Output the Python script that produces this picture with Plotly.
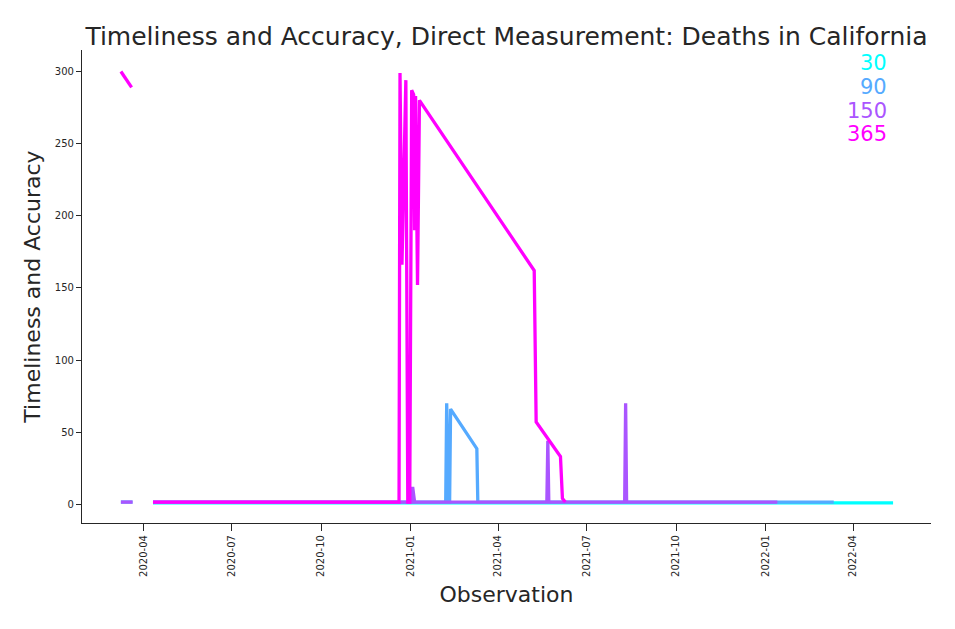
import plotly.graph_objects as go

# breakpoints (value is ~flat between listed dates)
dates_30 = ["2020-04-11", "2022-05-12"]
vals_30 = [1.0, 1.0]

dates_90 = ["2020-03-09", "2020-03-21", "2020-03-30", "2020-04-11", "2021-02-06", "2021-02-07",
            "2021-02-09", "2021-02-10", "2021-02-11", "2021-03-10", "2021-03-11", "2022-03-12"]
vals_90 = [1.5, 1.5, None, 1.5, 1.5, 70, 1.5, 1.5, 66, 38.5, 1.5, 1.5]

dates_150 = ["2020-03-09", "2020-03-21", "2020-03-30", "2020-04-11", "2021-01-02", "2021-01-03",
             "2021-01-05", "2021-05-21", "2021-05-22", "2021-05-23", "2021-08-09", "2021-08-10",
             "2021-08-11", "2022-01-13"]
vals_150 = [1.5, 1.5, None, 1.5, 1.5, 12, 1.5, 1.5, 44, 1.5, 1.5, 70, 1.5, 1.5]

dates_365 = ["2020-03-09", "2020-03-20", "2020-03-30", "2020-04-11", "2020-12-20", "2020-12-21",
             "2020-12-23", "2020-12-27", "2020-12-28", "2020-12-29", "2020-12-31", "2021-01-02",
             "2021-01-04", "2021-01-05", "2021-01-06", "2021-01-08", "2021-01-10", "2021-05-08",
             "2021-05-10", "2021-06-04", "2021-06-06", "2021-06-09"]
vals_365 = [300, 289, None, 1.5, 1.5, 299, 166, 294, 188, 1.5, 1.5, 287,
            284, 190, 283, 152, 280, 162, 57, 33, 4, 1.5]

series = [("30", dates_30, vals_30, "#00ffff"),
          ("90", dates_90, vals_90, "#55aaff"),
          ("150", dates_150, vals_150, "#aa55ff"),
          ("365", dates_365, vals_365, "#ff00ff")]

tick_dates = ["2020-04-01", "2020-07-01", "2020-10-01", "2021-01-01", "2021-04-01",
              "2021-07-01", "2021-10-01", "2022-01-01", "2022-04-01"]
tick_text = [d[:7] for d in tick_dates]

ink = "#262626"

fig = go.Figure()
for name, xs, ys, col in series:
    fig.add_trace(go.Scatter(x=xs, y=ys, mode="lines", name=name,
                             line=dict(color=col, width=3.3)))

# colored text legend at top right
for i, (name, xs, ys, col) in enumerate(series):
    fig.add_annotation(text=name, xref="paper", yref="paper", x=0.95, y=0.972 - i * 0.05,
                       xanchor="right", yanchor="middle", showarrow=False,
                       font=dict(size=21, color=col))

# page has an 8px body margin, so the figure is a bit smaller than the window
fig.update_layout(
    width=947, height=621,
    margin=dict(l=74, r=24, t=42, b=106),
    plot_bgcolor="white", paper_bgcolor="white",
    font=dict(family="DejaVu Sans", color=ink),
    showlegend=False,
    title=dict(text="Timeliness and Accuracy, Direct Measurement: Deaths in California",
               x=0.5, xref="paper", xanchor="center", y=1 - 28 / 621, yanchor="middle",
               font=dict(size=25, color=ink)),
)
fig.update_xaxes(type="date", range=["2020-01-29", "2022-06-20"],
                 tickvals=tick_dates, ticktext=tick_text, tickangle=-90,
                 tickfont=dict(size=10, color=ink), ticks="outside", ticklen=7, tickcolor=ink,
                 showline=True, linecolor=ink, linewidth=1.25, showgrid=False, zeroline=False,
                 title=dict(text="Observation", font=dict(size=22, color=ink), standoff=10))
fig.update_yaxes(range=[-13.0, 314.9], tickvals=[0, 50, 100, 150, 200, 250, 300],
                 tickfont=dict(size=10, color=ink), ticks="outside", ticklen=5, tickcolor=ink,
                 showline=True, linecolor=ink, linewidth=1.25, showgrid=False, zeroline=False,
                 title=dict(text="Timeliness and Accuracy", font=dict(size=22, color=ink), standoff=8))

fig.write_html("out.html")
